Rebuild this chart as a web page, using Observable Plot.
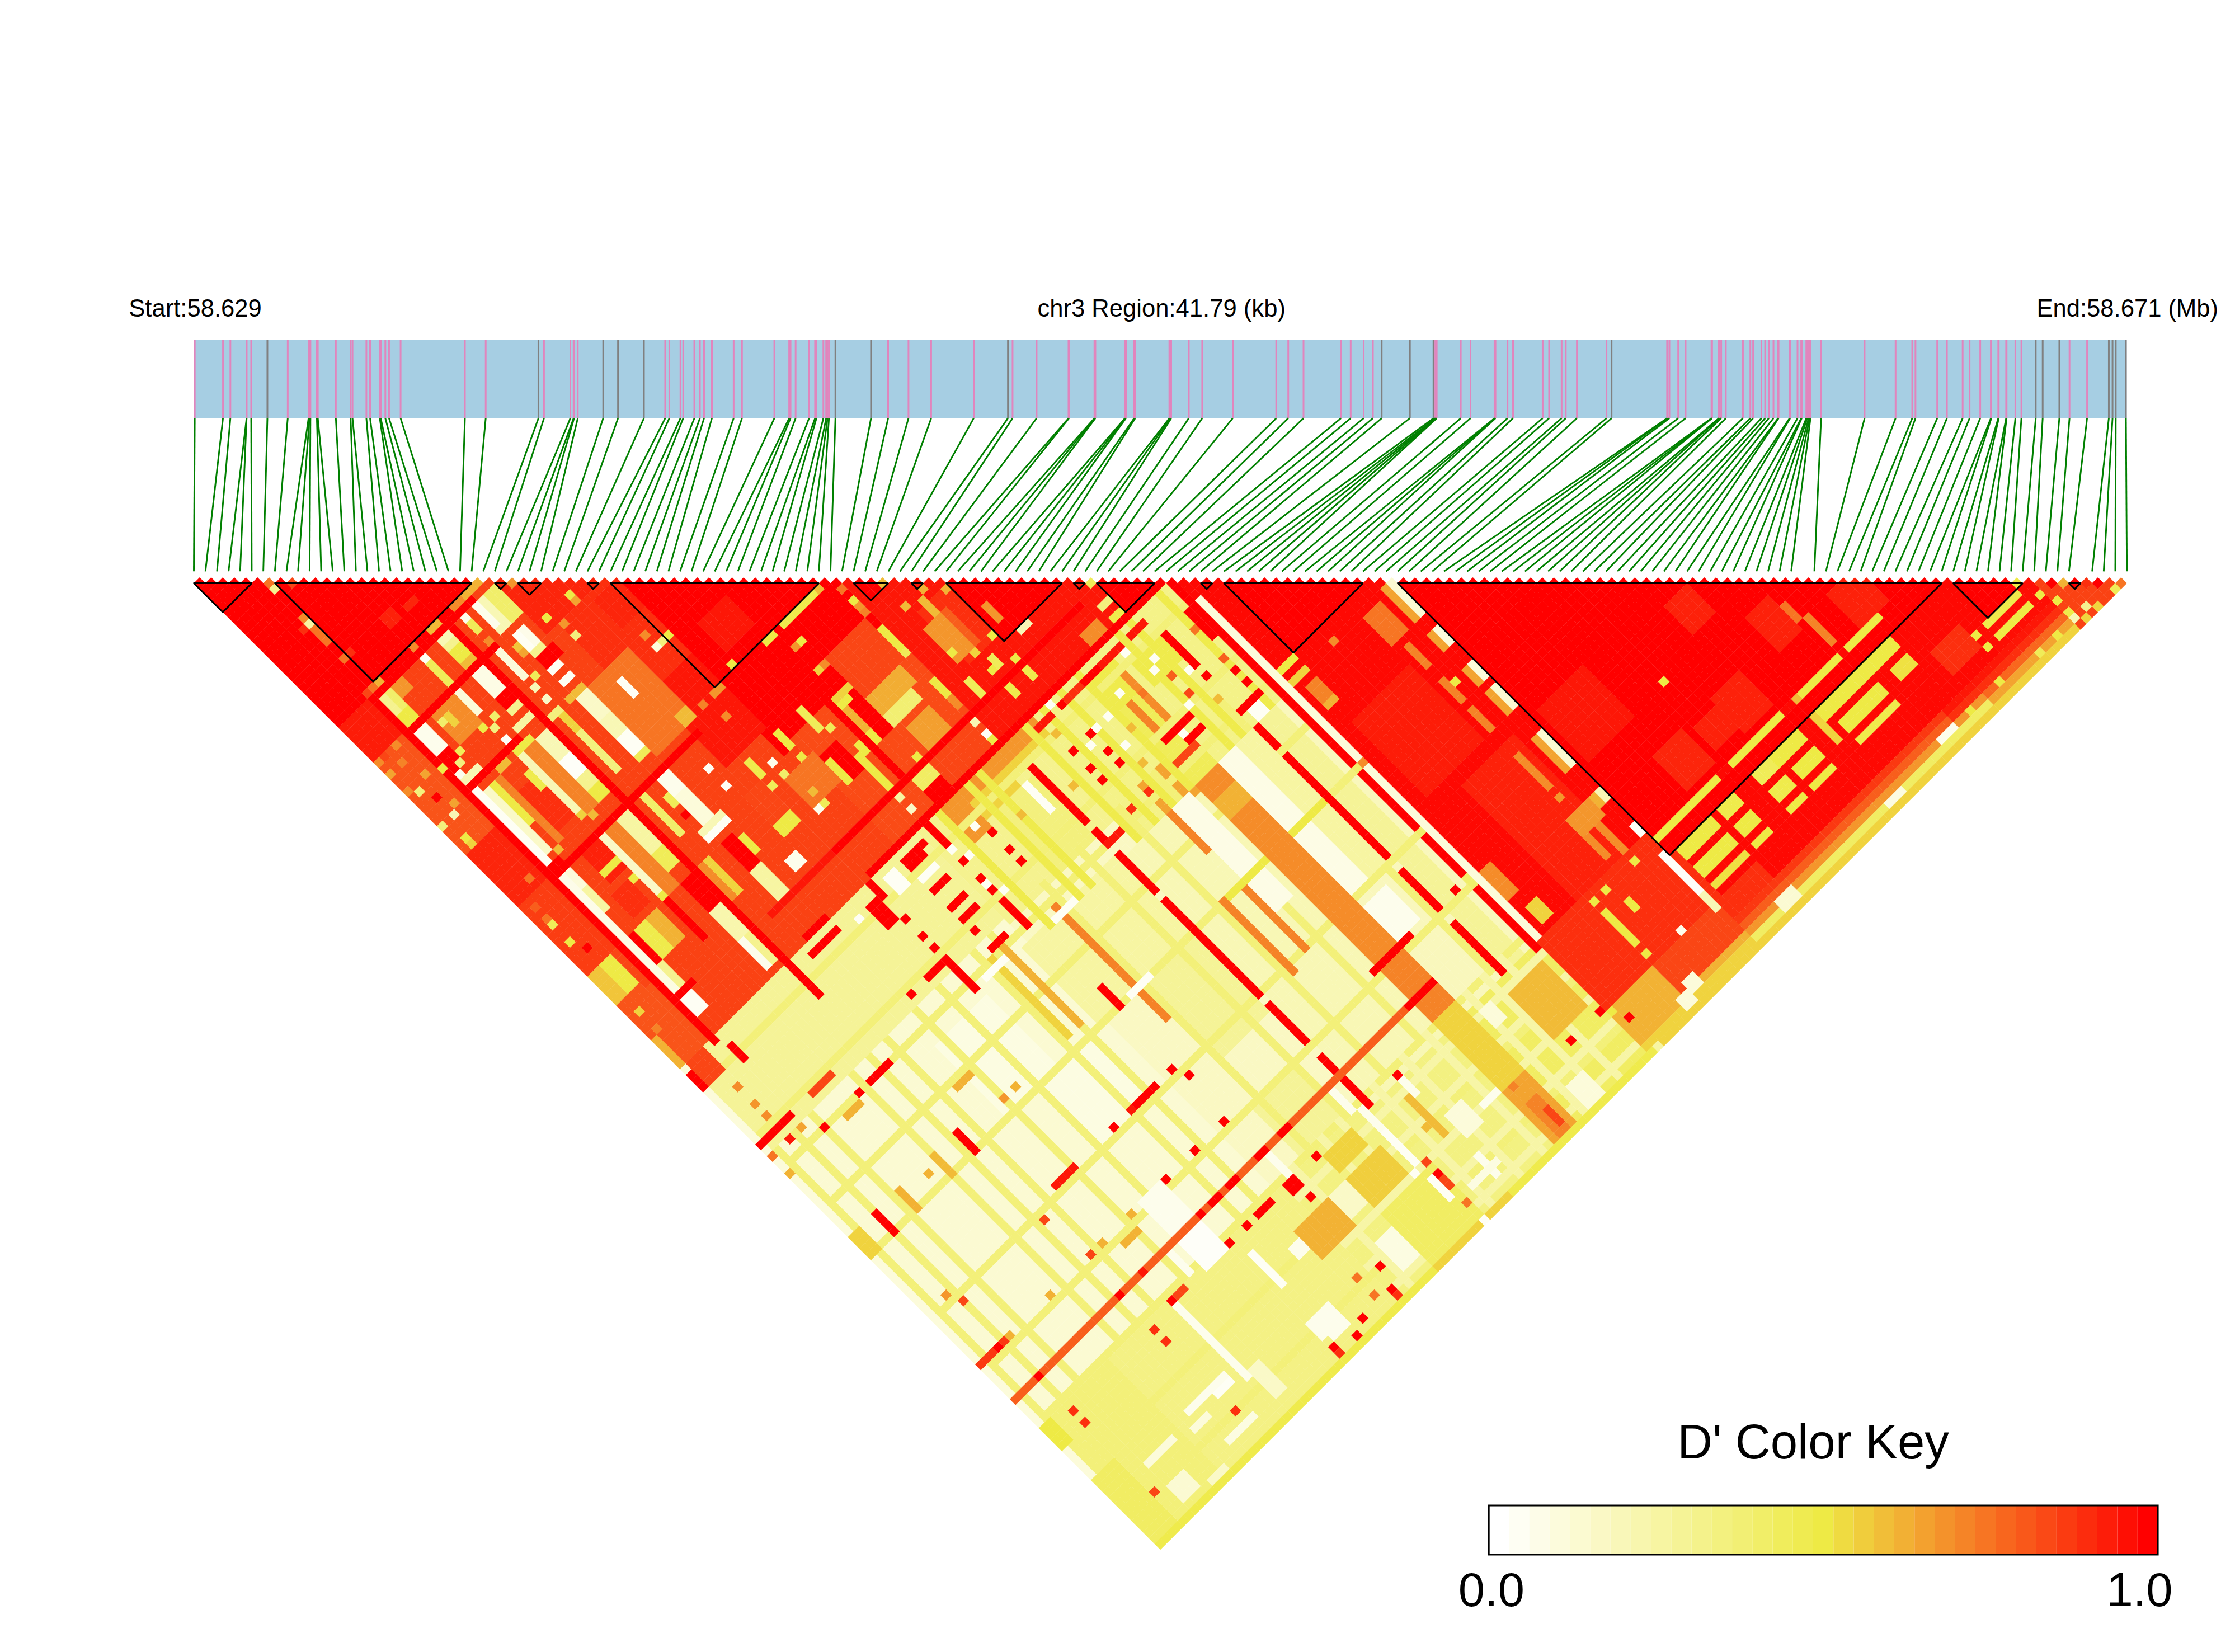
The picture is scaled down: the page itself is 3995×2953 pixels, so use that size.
<!DOCTYPE html>
<html><head><meta charset="utf-8">
<style>html,body{margin:0;padding:0;background:#fff}</style>
<script src="https://cdn.jsdelivr.net/npm/d3@7"></script>
<script src="https://cdn.jsdelivr.net/npm/@observablehq/plot@0.6"></script>
</head><body><div id="chart"></div>
<script>
const regionKb = 41.79;
const snpCount = 168;
const startLabel = "Start:58.629", midLabel = "chr3 Region:41.79 (kb)", endLabel = "End:58.671 (Mb)";
const keyTitle = "D' Color Key", keyLow = "0.0", keyHigh = "1.0";

// SNP positions along the region, in kb from the start (null: no connector visible)
const snpKb = [0.02,0.63,0.79,1.14,1.14,1.24,1.59,2.03,2.48,2.50,2.52,2.66,2.68,3.07,3.39,3.43,3.73,3.81,4.02,4.04,4.14,4.22,4.47,5.86,6.31,7.45,7.57,8.14,8.21,8.22,8.30,8.85,
9.17,9.73,10.19,10.28,10.52,10.58,10.82,10.94,11.03,11.20,11.67,11.85,12.55,12.87,12.90,13.01,13.30,13.43,13.46,13.61,13.67,13.70,13.73,13.87,14.64,15.01,15.45,15.94,16.86,17.60,17.70,18.22,18.91,18.92,19.47,19.48,19.49,
20.13,20.14,20.15,20.33,20.35,21.09,21.11,21.13,21.51,21.80,22.46,23.40,23.66,23.99,24.80,25.01,25.29,25.49,25.68,26.29,26.80,26.84,26.85,26.86,26.87,27.39,27.60,28.12,28.13,28.14,28.40,28.52,29.16,29.30,29.57,29.66,29.90,30.54,30.65,
31.85,31.86,31.90,32.09,32.25,32.81,32.82,32.82,32.97,32.98,33.02,33.12,33.49,33.65,33.71,33.89,33.97,34.05,34.15,34.25,34.26,34.50,34.51,34.67,34.75,34.76,34.86,34.88,34.91,34.93,34.95,null,35.18,36.12,36.79,37.15,37.22,37.69,37.90,38.24,38.39,38.62,38.85,38.86,39.01,39.02,39.18,39.19,39.38,39.51,39.82,39.97,40.33,40.55,40.93,null,41.40,41.48,41.55,41.77];
// SNPs whose tick in the gene bar is grey instead of pink
const greySnps = [6,25,31,32,33,55,56,61,87,88,89,107,158,159,160,164,165,166,167];
// haplotype blocks: first and last SNP slot
const haploBlocks = [[0,5],[7,24],[26,27],[28,30],[34,35],[36,54],[57,60],[62,63],[65,75],[76,77],[78,83],[87,88],[89,101],[104,151],[152,158],[162,163]];

const triangleLeft = [
[0,85,0,85,.86],[0,25,0,25,1],[0,4,26,31,.94],[0,4,32,47,.82],[0,4,48,56,.92],[0,4,57,68,.87],[0,4,74,85,.82],
[26,35,26,35,.92],[36,54,36,54,1],[28,36,36,50,.9],[36,56,55,66,1],[30,36,50,62,.95],[38,56,66,84,.84],[56,84,56,84,.95],[57,60,57,60,1],[65,75,65,75,1],[78,83,78,83,1],[60,64,66,74,.9],
[16,17,21,21,.92],[13,14,20,21,.93],[40,44,48,52,.95],
[2,3,69,73,.5],[0,1,69,73,.58],[4,4,69,74,.85],
// blocks beside the top red triangle
[22,22,27,30,.05],[23,23,27,31,.2],[24,25,27,31,.4],
[6,6,27,31,.3],[7,7,27,31,.4],[6,7,30,31,.5],[8,9,27,28,.68],[13,13,27,31,.45],[13,13,27,27,.03],
[16,17,27,27,.2],[16,17,28,28,.3],[16,17,29,30,.5],[16,17,31,31,.6],[20,20,27,29,.45],[20,20,27,27,.05],[20,20,31,32,.7],[20,20,33,37,.1],[20,20,39,39,.2],[20,20,41,41,.15],[20,20,43,53,.35],[20,20,44,46,.55],[20,20,58,64,.4],
[6,7,33,36,.05],[6,7,37,39,1],[6,6,40,40,.05],[7,7,39,39,.3],[5,8,41,41,.2],[13,13,33,36,.1],[16,17,33,36,.07],[16,17,37,38,1],[16,17,39,39,.3],[15,17,41,41,.25],[9,12,33,37,.7],[9,9,34,34,.4],[10,10,34,35,.55],[12,12,38,38,.5],[14,14,38,38,.4],[13,13,39,39,.35],[8,8,38,38,.45],[7,7,39,39,.35],[13,13,41,41,.02],[10,11,43,43,.6],[13,15,43,43,.5],
[6,6,43,55,.03],[7,7,44,54,.15],[8,8,44,50,.5],[9,9,44,54,.72],[10,12,47,53,.9],[14,15,44,54,.72],[13,13,44,54,.2],[12,12,46,48,.48],[13,13,54,54,.55],[14,14,55,55,.6],[8,8,55,55,.6],[6,7,56,56,1],
[16,17,44,47,.2],[16,17,48,50,.02],[16,17,51,52,.3],[16,17,53,54,.5],
[22,24,43,43,.6],[23,24,44,47,.15],[23,24,48,50,.2],[23,24,51,53,.03],[23,24,54,54,.45],[25,31,44,55,.75],[28,28,46,48,.03],[34,34,44,44,.7],[34,34,46,46,.1],[36,36,46,46,.5],[35,35,46,46,.35],
[28,28,38,38,.35],[31,31,34,34,.5],[31,31,35,35,.65],[27,27,34,34,.5],[28,28,36,36,.68],[34,34,39,39,.7],[33,36,37,41,.92],
[23,23,33,35,.03],[24,24,33,35,.06],[23,24,36,36,.3],[22,22,34,34,.58],[22,22,35,35,.65],[22,22,31,31,.2],[23,24,39,39,.03],[23,24,41,41,.03],[21,21,38,38,.45],[20,20,39,39,.2],[19,19,43,43,.35],[23,25,37,38,1],
[6,7,58,60,.1],[6,6,58,63,.06],[7,7,61,64,.25],[6,6,64,73,.07],[7,7,69,73,1],[6,6,74,78,.08],[7,7,74,77,.3],[8,9,69,73,.48],[10,11,69,73,.62],[9,11,64,67,.9],[10,12,58,62,.93],[10,15,61,61,.5],[12,15,64,64,.5],[13,13,58,68,.15],[13,13,68,68,.5],[13,13,69,75,1],[16,17,58,66,.25],[16,17,64,66,.45],[16,17,69,73,1],[14,15,58,68,.72],[23,24,58,60,.05],[23,24,61,65,.1],[22,22,60,61,.45],
// middle of the left triangle
[29,31,67,72,.85],[29,31,72,73,.5],[34,38,69,73,.75],[23,24,69,73,1],[20,20,69,74,.55],[19,19,69,74,.7],[25,25,70,72,.5],[27,28,76,77,.05],[23,24,74,78,.25],[16,17,74,78,.22],[16,16,79,83,.05],[17,17,79,83,.3],[22,25,67,67,.03],[22,25,66,66,.2],
[48,53,69,71,.63],[48,52,72,73,.38],[48,54,62,68,.85],[46,47,67,73,1],[45,47,66,66,.55],[44,46,67,67,.5],[44,45,68,72,.62],[43,45,72,73,.5],
[39,41,70,74,1],[39,39,71,74,.5],[41,41,64,67,.45],[42,42,68,68,.45],[42,42,73,78,.5],[44,44,75,77,.68],[49,52,75,78,.66],[47,47,78,78,.5],[45,47,80,81,.42],[48,55,80,83,.85],[45,47,82,83,1],[55,55,73,75,.5],[55,55,76,77,.7],
[59,61,68,73,.68],[62,62,68,73,.8],[59,59,72,72,.5],[61,61,74,74,.55],[62,62,76,77,.45],[58,58,76,78,.45],[61,61,77,77,.5],[64,64,78,78,.5],[64,64,74,74,.5],[66,66,71,73,.68],[67,68,76,76,.2],
[55,55,64,67,.5],[55,55,68,68,.45],[55,55,57,57,.75],[55,55,59,59,.5],[55,55,60,60,.68],[55,55,61,61,.72],
[59,59,60,60,.6],[59,59,64,64,.6],[61,61,65,67,.6],[62,62,64,64,.62],[64,64,66,66,.62],
[47,52,55,55,.48],[39,39,54,54,.5],[44,45,55,55,.5],[53,53,55,55,.6],[47,47,58,58,.5],[46,46,58,58,.68],[46,46,62,62,.55],[47,47,62,62,.7],[34,34,58,58,.7],[30,31,54,55,.6],[33,33,55,55,.72],[35,36,55,55,.68],
[37,37,64,66,.5],[34,34,66,66,.05],[32,32,64,66,.48],[32,32,68,68,.45],[34,34,68,68,.4],[37,37,68,68,.5],[35,35,72,72,.6],[35,35,74,74,.45],[34,34,74,74,.05],[28,28,61,61,.03],[28,28,64,64,.03],[22,22,63,63,1],
[64,64,80,81,.48],[61,61,80,81,.48],[55,55,80,80,.2],[55,55,82,82,.03],[55,55,83,83,.5],[76,77,81,81,.35],[76,77,83,83,.48],[77,77,78,78,.45],[72,74,82,84,.7],[42,42,80,80,.25],[42,42,82,82,.15],
[6,8,78,78,1],[6,7,79,81,.03],[6,6,86,86,1],
// single cells along the lower left edge
[6,6,13,13,.7],[6,6,14,14,.25],[5,5,14,14,.9],[6,6,15,17,.75],[6,6,20,20,.75],[7,7,20,20,.9],[7,7,25,25,.62],[5,5,25,25,.85],[6,6,25,25,.75],[6,6,7,7,.75],[6,6,8,8,.3],[8,8,9,9,.85],[22,24,25,25,.62],[20,21,25,25,.7],[16,17,25,25,.6],[13,13,25,25,.7],[27,27,28,28,.68],
[3,3,32,32,.7],[1,1,32,32,.85],[0,0,32,32,.7],[2,2,34,34,.72],[0,0,34,34,.65],[3,3,37,37,.65],[1,1,38,38,.35],[0,0,37,37,.7],[2,2,40,40,1],[3,3,42,42,.65],[2,2,43,43,.2],[0,0,43,43,.35],[1,1,46,46,.5],[1,1,47,47,.55],[3,3,55,55,.75],[1,1,58,58,.8],[1,1,60,60,.75],[1,1,61,61,.45],[1,1,64,64,.5],[2,2,66,66,1],[1,1,76,76,.55],[1,1,79,79,.72],[0,0,80,85,.62],
];
const redLines = [
[5,5,26,85,1],[18,18,26,90,1],[5,22,26,26,1],[6,20,32,32,1],[5,14,42,42,1],[5,30,57,57,1],[5,5,38,38,.5],[44,44,65,78,1],[31,74,79,79,1],[33,83,84,84,1],[21,31,79,79,.95],
];
const regionCentre = [
[0,84,85,167,.16],[40,84,85,100,.3],[60,84,85,105,.32],[0,40,85,100,.28],[0,40,100,146,.12],[0,12,146,167,.36],[12,42,146,167,.33],[42,84,146,167,.34],
[24,32,105,116,.08],[48,55,104,116,.25],[40,45,104,116,.25],[48,55,118,130,.28],[46,53,137,146,.28],[30,38,118,127,.08],[57,68,105,147,.2],[73,84,105,147,.18],[80,82,105,147,.28],[73,84,148,167,.42],
[49,55,90,100,.35],[69,72,87,91,.48],[69,72,92,104,.45],[74,78,88,92,.48],[44,47,85,90,.68],[48,53,86,89,.55],[64,68,100,105,.65],[70,70,92,96,.72],[72,72,88,100,.7],[45,60,85,86,.68],[48,60,87,88,.55],
];
// yellow stripes that cross the pale centre: a constant i or a constant j
const centreStripesI = [1,4,7,14,17,20,25,29,35,38,47,53,60,66,78];
const centreStripesJ = [88,97,102,109,117,128,137,146,154,162];
// stripes and pale crossings in the far end of the centre
const farStripesI = [44,49,52,58,63,67,74,77,80];
const farStripesJ = [149,153,157,161,165];
const nearStripesI = [44,49,51,59,62,65,68,75,77,82];
const nearWhiteCells = [[63,92],[66,95],[65,91],[67,91],[75,91],[63,85],[54,90],[54,91],[54,92],[54,93],[54,94],[46,89],[42,89],[43,91],[43,97],[42,95],[81,103],[80,103],[80,104],[81,104],[72,99],[74,87],[76,90],[78,94],[75,97],[70,90]];
const nearGoldCells = [[82,91,.75],[82,96,.8],[76,93,.8],[76,96,.85],[78,99,.6],[68,94,.6],[66,98,.6],[61,88,.6],[58,94,.6],[51,92,.6],[72,92,.75],[74,100,.7]];
const centreFeatures = [
[0,0,85,167,.1],[73,75,105,127,.07],[76,78,105,127,.25],[69,72,105,136,.7],[69,72,137,145,.72],[69,72,108,110,.62],[69,72,146,157,.55],[73,78,117,117,.5],[73,76,130,135,.05],
[65,67,105,122,.07],[62,68,117,117,.5],[64,64,105,111,.72],[64,64,118,128,.72],[61,61,117,129,.72],[46,46,103,116,.72],[46,46,118,122,.72],[38,38,102,115,.62],[36,36,102,115,.55],
[43,43,142,146,.05],[54,54,142,146,.05],[55,55,147,150,.05],[55,55,151,156,.03],[45,47,152,155,.15],[28,31,143,147,.02],[28,31,136,141,.05],[26,26,142,146,.05],[22,22,148,160,.05],[34,35,86,88,.03],[37,39,89,89,.03],[45,48,104,104,.03],[34,37,103,103,.03],[45,48,117,117,.03],
[48,53,152,156,.56],[48,52,148,150,.55],[39,44,152,156,.62],[48,56,158,166,.42],[75,77,163,166,.1],[78,83,150,157,.6],[74,75,149,151,.1],[69,72,158,167,.65],[70,71,161,166,.72],[71,71,163,165,.85],[59,59,154,154,.6],[70,70,158,158,.72],[60,60,150,156,.6],[61,61,148,150,.05],
[61,61,161,164,.05],[58,62,163,163,.08],[62,64,155,158,.1],[66,68,157,157,.05],[55,55,159,162,.03],[54,54,157,157,.03],[45,47,160,164,.08],[33,35,161,164,.05],[32,32,161,163,.05],[33,33,150,155,.03],[37,38,153,154,.05],[23,24,160,164,.15],[14,20,158,158,.05],[18,20,159,159,.03],[15,19,164,164,.08],[13,15,160,160,.1],[6,10,159,159,.1],[6,8,163,165,.12],[10,12,166,166,.15],
[0,1,147,150,.5],[0,3,156,167,.42],[0,1,114,117,.55],[8,8,114,117,.62],[14,14,114,117,.6],[12,12,115,115,.62],[25,25,115,115,.68],[27,27,115,115,.62],[22,24,110,110,.62],[10,12,103,103,.62],[23,25,138,138,.62],[5,5,136,136,.62],[21,21,136,136,.62],[26,26,136,136,.62],[12,12,136,136,.62],[3,3,94,94,.68],[3,3,91,91,.7],[3,3,96,96,.7],[5,5,100,100,.65],[0,0,103,103,.62],[3,3,127,127,.68],
[1,3,85,88,.85],[0,0,86,88,1],[1,5,98,98,1],[0,0,98,98,1],[3,3,100,100,.95],[0,0,100,100,.75],[7,7,102,102,1],[13,13,102,102,1],[15,18,102,102,1],[9,12,98,98,.85],[18,18,114,117,1],[4,4,114,117,1],[0,4,136,136,.88],[3,3,136,136,1],[4,4,129,129,.85],[18,18,129,129,.85],[19,19,136,136,.85],[22,25,127,127,.95],[36,39,127,127,1],[35,35,127,127,.95],[32,32,127,127,1],[18,18,148,148,.9],[4,4,162,162,.85],[4,4,150,150,.9],[4,4,148,148,.9],
[56,56,89,98,1],[56,56,100,102,1],[56,58,102,102,.95],[56,56,104,110,1],[56,56,112,116,1],[56,56,117,128,1],[56,56,130,136,1],[56,56,139,147,1],
[79,79,89,93,1],[79,79,105,108,1],[79,79,110,116,1],[79,79,117,127,1],[79,79,130,136,1],[79,79,139,147,1],[79,79,94,94,1],[79,79,96,96,1],[79,82,102,102,1],[82,82,98,98,1],[82,82,100,100,1],[70,74,98,98,1],[72,74,100,100,1],[69,72,101,101,.85],
[84,84,85,116,1],[84,84,118,127,1],[84,84,129,135,1],[84,84,138,148,1],[84,84,117,117,.4],[84,84,128,128,.4],[84,84,136,137,.4],[85,85,89,116,.1],[85,85,118,147,.1],[85,85,117,117,.7],[83,83,89,93,1],[82,82,136,136,1],
[42,42,85,88,1],[40,40,86,86,1],[37,39,86,87,1],[37,39,91,91,1],[37,39,94,94,1],[37,39,96,96,1],[37,37,98,98,1],[37,39,101,101,1],[42,42,91,91,1],[42,42,94,94,1],[42,42,96,96,1],[42,42,98,98,1],[42,42,99,102,1],[47,47,91,91,1],[47,47,94,94,1],[47,47,96,96,1],[32,32,91,91,1],[32,32,94,94,1],[32,32,96,96,1],[29,32,98,98,1],[32,32,99,103,1],[26,26,98,98,1],[43,43,114,117,1],
[61,61,91,91,1],[61,61,94,94,1],[61,61,96,96,1],[64,64,86,86,1],[64,64,91,91,1],[64,64,94,94,1],[64,64,96,96,1],[64,64,101,101,.9],[61,61,101,101,.9],[60,62,86,86,.95],[65,68,86,86,.9],[68,71,86,86,1],[71,74,86,86,.95],[76,78,86,86,.95],[21,25,86,86,1],[22,25,84,84,1],[30,31,87,90,1],[32,32,85,87,1],[28,28,87,87,.03],[6,6,87,89,1],
[0,72,142,142,.8],[4,4,142,142,1],[18,18,142,142,1],[22,22,142,142,.95],[32,32,142,142,1],[34,35,142,142,1],[37,38,142,142,1],[42,43,142,142,1],[46,47,142,142,1],[68,72,142,142,1],[68,74,136,136,1],
[42,42,136,136,1],[37,37,136,136,1],[32,32,136,136,1],[47,47,147,147,1],[42,43,147,148,1],[43,43,150,150,1],[37,39,147,147,1],[35,35,147,147,1],[32,32,147,147,1],[61,61,147,147,1],[42,42,127,127,1],[43,43,129,129,1],[22,24,147,147,.85],[22,22,147,147,1],[18,18,150,150,.9],
[43,43,162,162,1],[40,40,161,161,.75],[40,40,164,164,.75],[42,42,165,165,1],[42,42,166,166,.9],[42,43,167,167,.9],[37,37,165,165,1],[37,37,167,167,.9],[35,35,167,167,.9],[35,35,166,166,1],[32,32,165,165,1],[32,32,166,166,.9],[32,32,167,167,.85],[18,18,162,162,.9],
[56,56,159,159,1],[56,56,157,157,.85],[56,56,160,161,.85],[56,56,164,164,.75],
[0,85,167,167,.48],[48,60,167,167,.55],[56,56,167,167,.03],[84,84,159,159,1],[79,79,159,159,1],
];
const regionRight = [
[85,167,85,167,.98],[88,97,113,125,.94],[92,100,128,147,.93],[86,103,148,154,.92],[85,104,148,159,.9],[93,104,160,164,.85],[85,92,160,167,.62],[93,104,165,167,.62],[85,104,166,167,.55],[85,85,160,160,.5],[86,86,162,162,1],
[89,101,89,101,1],[104,151,104,151,1],[105,112,128,136,.95],[125,128,130,134,.93],[131,134,138,143,.93],[121,125,142,147,.93],[111,115,142,147,.92],[117,120,143,146,.93],[140,144,143,148,.93],[136,136,143,147,.72],[135,135,140,142,.75],
[102,102,104,109,.65],[103,103,104,109,.12],[98,100,105,109,.75],[103,103,112,114,.1],[102,102,112,114,.65],[103,103,118,120,.1],[102,102,118,120,.65],[103,103,122,125,.12],[102,102,122,125,.65],[99,99,122,125,.72],[103,103,130,135,.12],[102,102,130,135,.65],[99,99,130,135,.7],[103,103,140,141,.2],[102,102,140,141,.62],[103,103,146,147,.02],[100,100,143,147,.7],[98,98,143,146,.7],[98,101,140,142,.68],[99,99,111,114,.72],[100,100,118,118,.5],[99,99,117,120,.72],[99,99,137,137,.68],[87,88,106,108,.72],[87,88,109,109,.62],[86,88,102,102,.5],[86,88,104,104,.55],[93,93,104,104,.7],[87,88,144,146,.55],[86,87,137,141,.7],
[104,110,160,163,.9],[144,148,157,160,.9],[150,158,159,163,.97],[152,158,152,158,1],
[104,142,149,149,.5],[128,128,149,149,.6],[116,116,149,149,.98],[115,115,149,149,.98],[111,111,149,149,.5],[126,127,149,149,.98],[136,136,149,149,.98],[118,118,136,136,.5],
[105,110,152,153,.5],[112,114,152,153,.48],[118,120,152,153,.45],[121,125,152,153,.5],[129,138,152,153,.5],[139,141,152,153,.5],[128,128,152,153,.55],
[105,110,155,156,.5],[112,114,155,156,.5],[118,120,155,156,.48],[122,125,155,156,.5],[130,136,155,156,.5],[139,141,155,156,.52],[128,128,154,156,.55],
[105,110,158,158,.52],[112,114,158,158,.5],[118,120,158,158,.5],[122,125,158,158,.5],[130,136,158,158,.48],
[95,95,149,149,.5],[93,93,149,149,.5],[100,100,149,149,.5],[93,93,151,154,.5],[96,96,152,153,.5],[93,93,155,156,.5],[93,93,158,158,.5],
[103,103,151,154,.02],[103,103,154,157,.02],[103,103,158,160,.2],
[104,158,163,163,.88],[104,158,164,164,.8],[104,158,165,165,.68],[104,158,166,166,.42],[104,158,167,167,.55],
[140,158,163,163,.95],[140,158,164,164,.9],[145,158,165,165,.78],[145,158,166,166,.65],[142,142,165,165,.5],[147,147,165,165,.5],[153,153,166,166,.45],[156,156,166,166,.5],
[137,139,165,165,.05],[127,129,166,166,.08],[109,111,165,166,.12],[98,98,159,159,.05],[94,95,164,165,.1],[92,93,165,166,.1],[86,86,167,167,.25],
[149,149,161,161,.5],[149,149,159,159,.5],[151,153,161,161,.5],[154,156,161,161,.5],[151,153,159,159,.48],[154,156,159,159,.48],[158,158,161,161,.5],[157,157,158,158,.5],
[159,167,159,167,.86],[159,159,163,163,.5],[159,159,165,165,.48],[159,159,166,166,.2],[161,161,166,166,.3],[165,165,167,167,.45],[166,166,167,167,.75],[164,164,165,165,1],[163,163,164,164,.9],[162,163,162,163,1],[160,161,160,161,1],[161,161,162,162,.62],[160,160,167,167,.55],[162,162,167,167,.55],
];

// Colour key: 33 steps of the same scale
const keySteps = d3.range(33).map(k => ({k, v: k / 32}));

// ---- build the table of pairs from the patches
const ld = Array.from({length: snpCount}, () => new Float32Array(snpCount));
const paint = ([a, b, c, d, v]) => {
  for (let i = a; i <= b; i++) for (let j = Math.max(c, i + 1); j <= d; j++) if (i < snpCount && j < snpCount) ld[i][j] = v;
};
triangleLeft.forEach(paint);
regionCentre.forEach(paint);
for (const i of centreStripesI) paint([i, i, 100, 146, .36]);
for (const j of centreStripesJ) paint([0, 84, j, j, .36]);
for (const i of nearStripesI) paint([i, i, 85, 104, .48]);
for (const i of farStripesI) paint([i, i, 146, 167, .24]);
for (const j of farStripesJ) paint([42, 84, j, j, .24]);
for (const [i, j] of nearWhiteCells) paint([i, i, j, j, .03]);
for (const [i, j, v] of nearGoldCells) paint([i, i, j, j, v]);
regionRight.forEach(paint);
redLines.forEach(paint);
centreFeatures.forEach(paint);
const pairs = [];
for (let i = 0; i < snpCount; i++) for (let j = i + 1; j < snpCount; j++) pairs.push({i, j, v: ld[i][j]});

const slotOfKb = kb => kb / regionKb * (snpCount - 1);
const snps = snpKb.map((kb, k) => ({k, kb})).filter(d => d.kb != null);
const isGrey = new Set(greySnps);
const blockLines = haploBlocks.map(([s, e], b) => [[s, 1, b], [e, 1, b], [(s + e) / 2, 1 + e - s, b], [s, 1, b]]).flat();

// vertical bands, expressed in the pair-distance axis
const barTop = -41.0, barBottom = -27.5, linkBottom = -1.05, headerY = -46.4;
const keyTop = 160.4, keyBottom = 168.9, keyTitleY = 149.5, keyLabelY = 175.1;
const keyX0 = 111.9, keyX1 = 169.7;
const diamond = {draw(ctx, size) {const h = Math.sqrt(size / Math.PI); ctx.moveTo(0, -h); ctx.lineTo(h, 0); ctx.lineTo(0, h); ctx.lineTo(-h, 0); ctx.closePath();}};
const font = "Liberation Sans, Arial, sans-serif";

const chart = Plot.plot({
  width: 3995, height: 2953, margin: 0,
  style: {background: "#fff"},
  x: {domain: [0, 167], range: [346, 3801.2], axis: null},
  y: {domain: [1, 167], range: [1042, 2759.3], axis: null},
  color: {type: "linear", domain: [0, .5, 1], range: ["#ffffff", "#eeea45", "#ff0000"]},
  marks: [
    Plot.text([startLabel, midLabel, endLabel], {x: [.12, 83.6, 167.05], y: headerY, text: d => d, fontSize: 43.6, fontFamily: font, fill: "#000"}),
    Plot.rect([0], {x1: 0, x2: 167, y1: barTop, y2: barBottom, fill: "#a6cee3"}),
    Plot.ruleX(snps, {x: d => slotOfKb(d.kb), y1: barTop, y2: barBottom, stroke: d => isGrey.has(d.k) ? "#808080" : "#e185bd", strokeWidth: 3}),
    Plot.link(snps, {x1: d => slotOfKb(d.kb), x2: d => d.k, y1: barBottom, y2: linkBottom, stroke: "#008000", strokeWidth: 2.9}),
    Plot.dot(pairs, {x: d => (d.i + d.j) / 2, y: d => d.j - d.i, r: 10.55, symbol: diamond, fill: d => d.v, stroke: null}),
    Plot.line(blockLines, {x: d => d[0], y: d => d[1], z: d => d[2], stroke: "#000", strokeWidth: 3, strokeLinejoin: "miter"}),
    Plot.rect(keySteps, {x1: d => keyX0 + (keyX1 - keyX0) * d.k / 33, x2: d => keyX0 + (keyX1 - keyX0) * (d.k + 1) / 33, y1: keyTop, y2: keyBottom, fill: d => d.v}),
    Plot.rect([0], {x1: keyX0, x2: keyX1, y1: keyTop, y2: keyBottom, fill: "none", stroke: "#000", strokeWidth: 3}),
    Plot.text([keyTitle], {x: 139.9, y: keyTitleY, text: d => d, fontSize: 87, fontFamily: font, fill: "#000"}),
    Plot.text([keyLow, keyHigh], {x: [112.1, 168.1], y: keyLabelY, text: d => d, fontSize: 85, fontFamily: font, fill: "#000"})
  ]
});
document.getElementById("chart").appendChild(chart);
</script></body></html>
